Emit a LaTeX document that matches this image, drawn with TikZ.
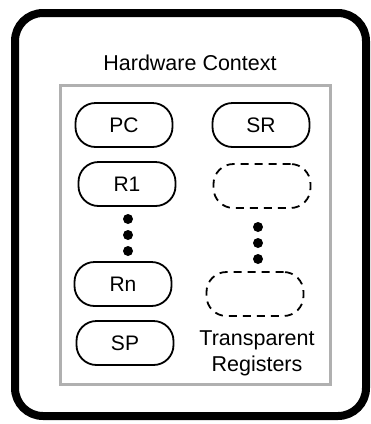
\documentclass[tikz,border=0pt]{standalone}
\usepackage{fontspec}
\setmainfont{Liberation Sans}
\begin{document}
\begin{tikzpicture}[x=1pt,y=-1pt,
  reg/.style={draw, line width=1.8pt, minimum width=97pt, minimum height=44pt, rounded corners=20pt, inner sep=0pt, font=\fontsize{21}{25}\selectfont},
  treg/.style={reg, dashed, dash pattern=on 8pt off 6pt},
  dot/.style={circle, fill=black, inner sep=0pt, minimum size=10pt},
  lbl/.style={font=\fontsize{21.5}{26}\selectfont, align=center, inner sep=0pt}]
\useasboundingbox (0,0) rectangle (371,424);
\draw[line width=8pt, rounded corners=28pt] (15,13) rectangle (366,416);
\draw[line width=3pt, color={rgb,255:red,176;green,176;blue,176}] (60,85) rectangle (330,384);
\node[lbl] (title) at (190,63) {Hardware Context};
\node[reg] (pc) at (124,125) {PC};
\node[reg] (sr) at (261,125) {SR};
\node[reg] (r1) at (127,184) {R1};
\node[treg] (t1) at (262,186) {};
\node[dot] (ld1) at (128,219) {};
\node[dot] (ld2) at (128,235) {};
\node[dot] (ld3) at (128,251) {};
\node[dot] (rd1) at (258,227) {};
\node[dot] (rd2) at (258,243) {};
\node[dot] (rd3) at (258,259) {};
\node[reg] (rn) at (123,284) {Rn};
\node[treg] (t2) at (255,294) {};
\node[reg] (sp) at (125,343) {SP};
\node[lbl] (tr) at (257,353) {Transparent\\Registers};
\end{tikzpicture}
\end{document}
